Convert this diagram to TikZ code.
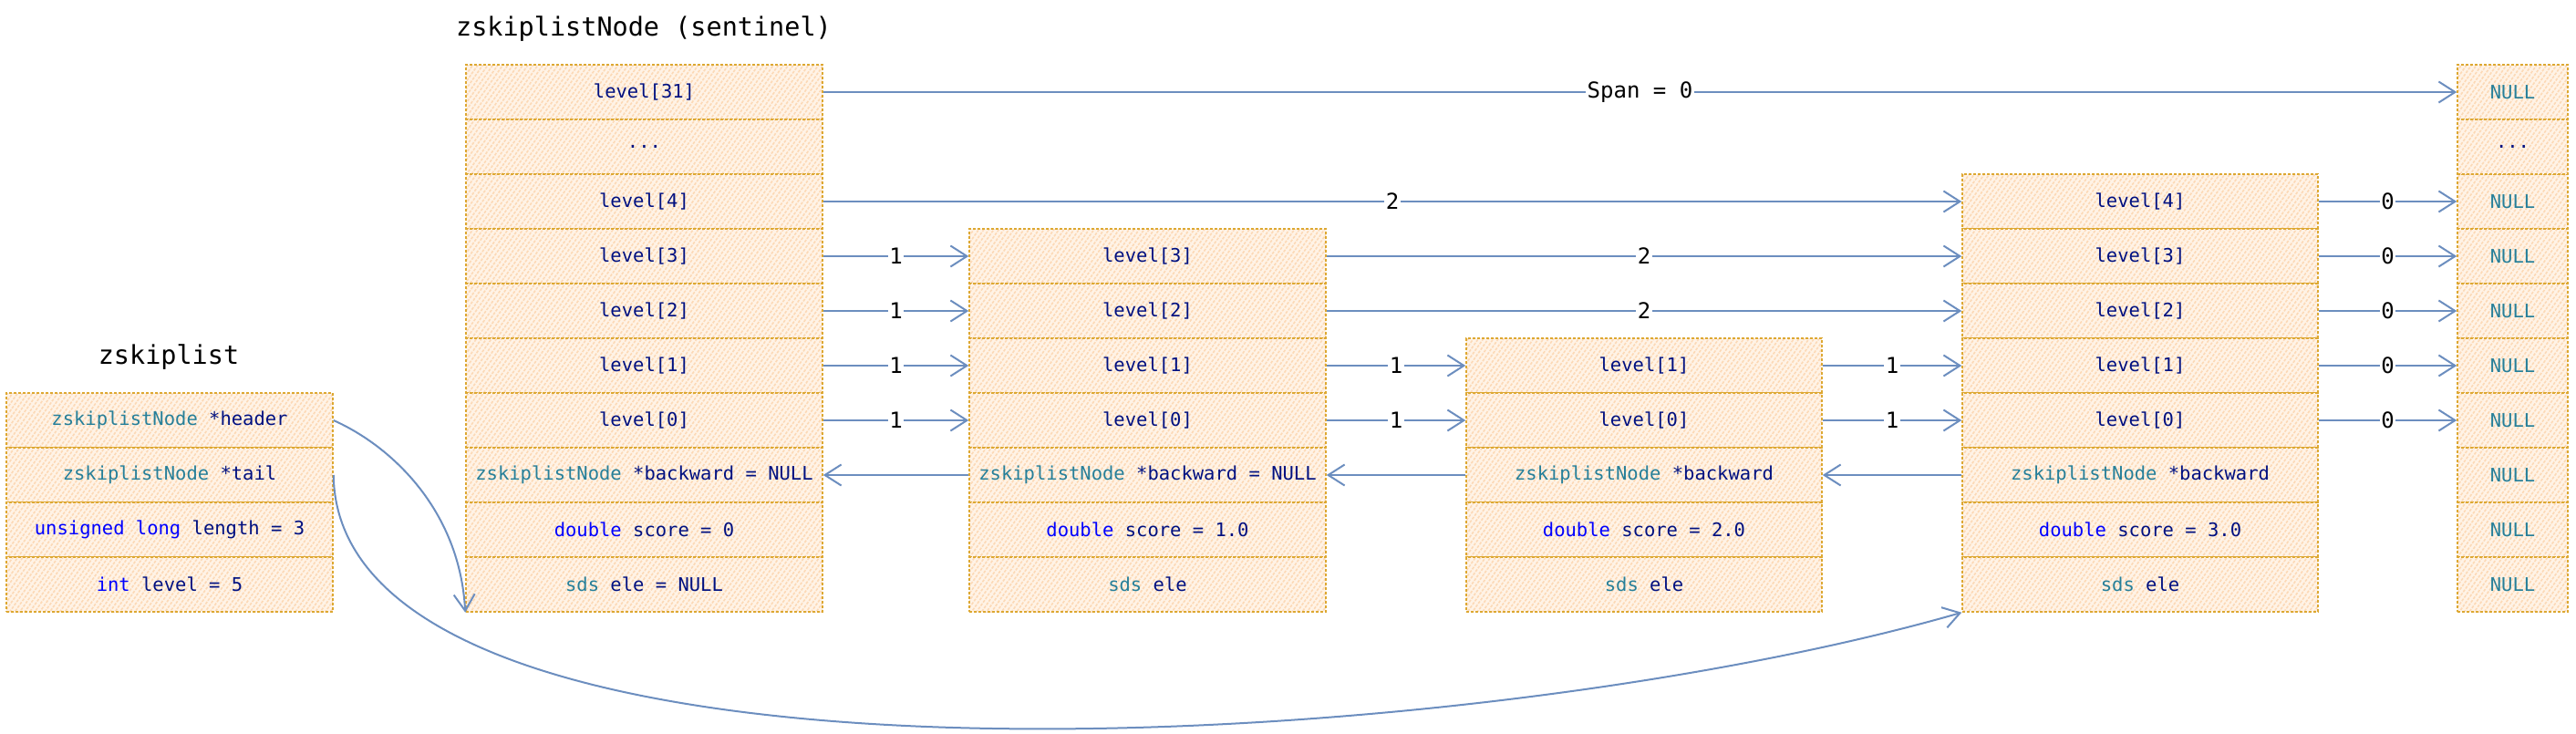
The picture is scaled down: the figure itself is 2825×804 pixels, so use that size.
\documentclass[tikz,border=0pt]{standalone}
\usepackage{fontspec}
\setmonofont{DejaVu Sans Mono}
\usepackage{tikz}
\usetikzlibrary{arrows.meta,positioning,calc,patterns.meta}
\usepackage{xcolor}
\definecolor{cellbg}{HTML}{FFF3E6}
\definecolor{cellhatch}{HTML}{FCD9B6}
\definecolor{cellline}{HTML}{DDA832}
\definecolor{linkblue}{HTML}{6C8EBF}
\definecolor{tyteal}{HTML}{267F99}
\definecolor{kwblue}{HTML}{0000FF}
\definecolor{varnavy}{HTML}{001080}
\newcommand\boxfont{\ttfamily\fontsize{20.5}{24}\selectfont}
\newcommand\labfont{\ttfamily\fontsize{24}{28}\selectfont}
\newcommand\titlefont{\ttfamily\fontsize{28.5}{34}\selectfont}
\newcommand\tyc[1]{\textcolor{tyteal}{#1}}
\newcommand\kwc[1]{\textcolor{kwblue}{#1}}

\begin{document}
\begin{tikzpicture}[x=1pt,y=-1pt,
  cell/.style={draw=cellline, densely dashed, line width=1.5pt,
    preaction={fill=cellbg},
    pattern={Lines[angle=55,distance=4.5pt,line width=1.6pt]}, pattern color=cellhatch,
    minimum width=#1, minimum height=60pt, inner sep=0pt,
    font=\boxfont, text=varnavy},
  link/.style={draw=linkblue, line width=2pt,
    -{Straight Barb[length=18pt,width=23pt,line width=2pt]}},
  spanlabel/.style={fill=white, inner sep=1.5pt, font=\labfont, text=black}]
  \useasboundingbox (0,0) rectangle (2825,804);

  % titles
  \node[font=\titlefont] (sen-title) at (706,32) {zskiplistNode (sentinel)};
  \node[font=\titlefont] (zl-title) at (185,392) {zskiplist};

  % zskiplist
  \foreach \r/\t in {0/{\tyc{zskiplistNode} *header},1/{\tyc{zskiplistNode} *tail},
      2/{\kwc{unsigned long} length = 3},3/{\kwc{int} level = 5}}
    \node[cell=358pt] (zl-\r) at (186,{461+60*\r}) {\t};

  % sentinel header node
  \foreach \r/\t in {0/{level[31]},1/{...},2/{level[4]},3/{level[3]},4/{level[2]},
      5/{level[1]},6/{level[0]},7/{\tyc{zskiplistNode} *backward = NULL},
      8/{\kwc{double} score = 0},9/{\tyc{sds} ele = NULL}}
    \node[cell=391pt] (sen-\r) at (706.5,{101+60*\r}) {\t};

  % node with score 1.0
  \foreach \r/\t in {3/{level[3]},4/{level[2]},5/{level[1]},6/{level[0]},
      7/{\tyc{zskiplistNode} *backward = NULL},8/{\kwc{double} score = 1.0},9/{\tyc{sds} ele}}
    \node[cell=391pt] (n1-\r) at (1258.5,{101+60*\r}) {\t};

  % node with score 2.0
  \foreach \r/\t in {5/{level[1]},6/{level[0]},7/{\tyc{zskiplistNode} *backward},
      8/{\kwc{double} score = 2.0},9/{\tyc{sds} ele}}
    \node[cell=390pt] (n2-\r) at (1803,{101+60*\r}) {\t};

  % node with score 3.0
  \foreach \r/\t in {2/{level[4]},3/{level[3]},4/{level[2]},5/{level[1]},6/{level[0]},
      7/{\tyc{zskiplistNode} *backward},8/{\kwc{double} score = 3.0},9/{\tyc{sds} ele}}
    \node[cell=390pt] (n3-\r) at (2347,{101+60*\r}) {\t};

  % NULL column
  \foreach \r in {0,2,3,...,9}
    \node[cell=121pt] (nul-\r) at (2755.5,{101+60*\r}) {\tyc{NULL}};
  \node[cell=121pt] (nul-1) at (2755.5,161) {...};

  % forward pointers
  \draw[link] (sen-0) -- node[spanlabel] {Span = 0} (nul-0);
  \draw[link] (sen-2) -- node[spanlabel] {2} (n3-2);
  \foreach \r in {3,...,6}
    \draw[link] (sen-\r) -- node[spanlabel] {1} (n1-\r);
  \foreach \r in {3,4}
    \draw[link] (n1-\r) -- node[spanlabel] {2} (n3-\r);
  \foreach \r in {5,6} {
    \draw[link] (n1-\r) -- node[spanlabel] {1} (n2-\r);
    \draw[link] (n2-\r) -- node[spanlabel] {1} (n3-\r);
  }
  \foreach \r in {2,...,6}
    \draw[link] (n3-\r) -- node[spanlabel] {0} (nul-\r);

  % backward pointers
  \draw[link] (n1-7) -- (sen-7);
  \draw[link] (n2-7) -- (n1-7);
  \draw[link] (n3-7) -- (n2-7);

  % header and tail
  \draw[link] (zl-0.east) .. controls +(65,29) and +(-6,-111) .. (sen-9.south west);
  \draw[link] (zl-1.east) .. controls +(5,379) and +(-552,159) .. (n3-9.south west);
\end{tikzpicture}
\end{document}
